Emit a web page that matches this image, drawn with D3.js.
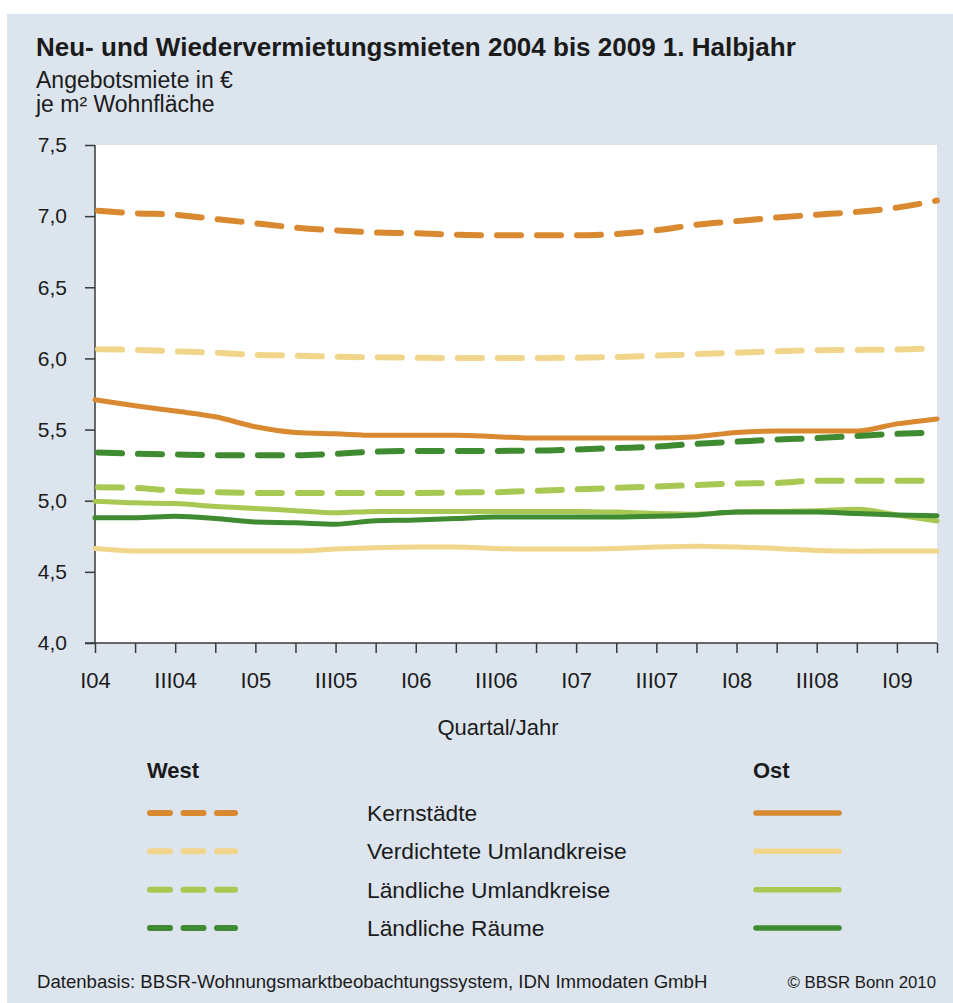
<!DOCTYPE html>
<html>
<head>
<meta charset="utf-8">
<script src="https://cdn.jsdelivr.net/npm/d3@7"></script>
<style>
  body { margin: 0; background: #fff; }
  text { font-family: "Liberation Sans", Arial, sans-serif; fill: #1b1b1b; }
</style>
</head>
<body>
<svg id="chart" width="953" height="1003"></svg>
<script>
// quarters I04 .. II09
var quarters = ['I04','II04','III04','IV04','I05','II05','III05','IV05','I06','II06','III06','IV06',
                'I07','II07','III07','IV07','I08','II08','III08','IV08','I09','II09'];
var tickLabels = ['I04','III04','I05','III05','I06','III06','I07','III07','I08','III08','I09'];
var yTicks = [4.0, 4.5, 5.0, 5.5, 6.0, 6.5, 7.0, 7.5];

var regions = ['Kernstädte', 'Verdichtete Umlandkreise', 'Ländliche Umlandkreise', 'Ländliche Räume'];
var colors = ['#d9892f', '#f1d58b', '#a7c852', '#3f8b31'];

// West (dashed)
var westKern = [7.04,7.02,7.01,6.98,6.95,6.92,6.90,6.885,6.88,6.87,6.865,6.865,6.865,6.875,6.90,6.94,6.965,6.99,7.01,7.03,7.06,7.11];
var westVerd = [6.065,6.06,6.05,6.04,6.025,6.02,6.012,6.008,6.005,6.003,6.003,6.003,6.005,6.01,6.02,6.03,6.04,6.05,6.058,6.06,6.062,6.072];
var westLaendUml = [5.095,5.09,5.07,5.06,5.055,5.055,5.055,5.055,5.055,5.058,5.06,5.07,5.08,5.09,5.10,5.11,5.12,5.125,5.14,5.14,5.14,5.14];
var westLaendRaum = [5.34,5.33,5.325,5.32,5.32,5.32,5.33,5.345,5.35,5.35,5.35,5.352,5.36,5.37,5.38,5.40,5.415,5.43,5.44,5.455,5.47,5.48];

// Ost (solid)
var ostKern = [5.71,5.668,5.63,5.59,5.52,5.48,5.47,5.46,5.46,5.46,5.45,5.44,5.44,5.44,5.44,5.45,5.48,5.49,5.49,5.49,5.54,5.575];
var ostVerd = [4.664,4.647,4.647,4.647,4.647,4.647,4.66,4.67,4.675,4.675,4.665,4.66,4.66,4.665,4.675,4.68,4.675,4.665,4.65,4.645,4.647,4.647];
var ostLaendUml = [4.997,4.985,4.98,4.96,4.945,4.93,4.915,4.925,4.925,4.925,4.925,4.925,4.925,4.92,4.91,4.905,4.92,4.925,4.93,4.94,4.90,4.857];
var ostLaendRaum = [4.88,4.88,4.89,4.875,4.85,4.845,4.835,4.86,4.865,4.875,4.885,4.885,4.885,4.885,4.89,4.90,4.92,4.92,4.92,4.91,4.90,4.895];

var westSeries = [westKern, westVerd, westLaendUml, westLaendRaum];
var ostSeries = [ostKern, ostVerd, ostLaendUml, ostLaendRaum];

var svg = d3.select('#chart');
var width = +svg.attr('width');
var height = +svg.attr('height');

var plot = {left: 95, right: 937, top: 145, bottom: 643};

// background panel
svg.append('rect')
    .attr('x', 7).attr('y', 14)
    .attr('width', width - 7).attr('height', height - 14)
    .attr('fill', '#dce4ee');

svg.append('rect')
    .attr('x', plot.left).attr('y', plot.top)
    .attr('width', plot.right - plot.left).attr('height', plot.bottom - plot.top)
    .attr('fill', '#ffffff');

var x = d3.scalePoint().domain(quarters).range([plot.left, plot.right]);
var y = d3.scaleLinear().domain([4, 7.5]).range([plot.bottom, plot.top]);

// titles
svg.append('text')
    .attr('x', 36).attr('y', 56)
    .style('font-size', '26px').style('font-weight', 'bold')
    .text('Neu- und Wiedervermietungsmieten 2004 bis 2009 1. Halbjahr');
svg.append('text')
    .attr('x', 36).attr('y', 88)
    .style('font-size', '23px')
    .text('Angebotsmiete in €');
svg.append('text')
    .attr('x', 36).attr('y', 112)
    .style('font-size', '23px')
    .text('je m² Wohnfläche');

// axes
var yAxis = d3.axisLeft(y).tickValues(yTicks).tickSize(10)
    .tickFormat(function(d) { return d3.format('.1f')(d).replace('.', ','); });
var yG = svg.append('g').attr('transform', 'translate(' + plot.left + ',0)').call(yAxis);
yG.select('.domain').remove();
yG.append('line').attr('x1', 0).attr('x2', 0).attr('y1', plot.top).attr('y2', plot.bottom);
yG.selectAll('line').attr('stroke', '#3a3a3a').attr('stroke-width', 1.5);
yG.selectAll('text')
    .attr('x', -28)
    .style('font-size', '21px')
    .style('font-family', '"Liberation Sans", Arial, sans-serif')
    .attr('fill', '#1b1b1b');

var xAxis = d3.axisBottom(x).tickSize(10)
    .tickFormat(function(d) { return tickLabels.indexOf(d) >= 0 ? d : ''; });
var xG = svg.append('g').attr('transform', 'translate(0,' + plot.bottom + ')').call(xAxis);
xG.select('.domain').remove();
xG.append('line').attr('x1', plot.left - 10).attr('x2', plot.right).attr('y1', 0).attr('y2', 0);
xG.selectAll('line').attr('stroke', '#3a3a3a').attr('stroke-width', 1.5);
xG.selectAll('text')
    .attr('y', 45)
    .attr('dy', 0)
    .style('font-size', '22px')
    .style('font-family', '"Liberation Sans", Arial, sans-serif')
    .attr('fill', '#1b1b1b');

svg.append('text')
    .attr('x', 498).attr('y', 735)
    .attr('text-anchor', 'middle')
    .style('font-size', '22px')
    .text('Quartal/Jahr');

// lines
var line = d3.line()
    .x(function(d, i) { return x(quarters[i]); })
    .y(function(d) { return y(d); })
    .curve(d3.curveMonotoneX);

var ostOrder = [1, 2, 3, 0];
ostOrder.forEach(function(i) {
    svg.append('path')
        .datum(ostSeries[i])
        .attr('d', line)
        .attr('fill', 'none')
        .attr('stroke', colors[i])
        .attr('stroke-width', 5)
        .attr('stroke-linecap', 'round')
        .attr('stroke-linejoin', 'round');
});

westSeries.forEach(function(s, i) {
    svg.append('path')
        .datum(s)
        .attr('d', line)
        .attr('fill', 'none')
        .attr('stroke', colors[i])
        .attr('stroke-width', 6)
        .attr('stroke-dasharray', '24,16')
        .attr('stroke-dashoffset', -3)
        .attr('stroke-linecap', 'round');
});

// legend
svg.append('text').attr('x', 147).attr('y', 778)
    .style('font-size', '22px').style('font-weight', 'bold').text('West');
svg.append('text').attr('x', 753).attr('y', 778)
    .style('font-size', '22px').style('font-weight', 'bold').text('Ost');

var legendY = d3.scalePoint().domain(regions).range([813, 928]);

regions.forEach(function(r, i) {
    var ly = legendY(r);
    svg.append('line')
        .attr('x1', 150).attr('x2', 235).attr('y1', ly).attr('y2', ly)
        .attr('stroke', colors[i]).attr('stroke-width', 6)
        .attr('stroke-dasharray', '20,13.5')
        .attr('stroke-linecap', 'round');
    svg.append('text')
        .attr('x', 367).attr('y', ly + 8)
        .style('font-size', '22.8px')
        .text(r);
    svg.append('line')
        .attr('x1', 756).attr('x2', 839).attr('y1', ly).attr('y2', ly)
        .attr('stroke', colors[i]).attr('stroke-width', 5.5)
        .attr('stroke-linecap', 'round');
});

// footer
svg.append('text').attr('x', 37).attr('y', 988)
    .style('font-size', '18.6px')
    .text('Datenbasis: BBSR-Wohnungsmarktbeobachtungssystem, IDN Immodaten GmbH');
svg.append('text').attr('x', 936).attr('y', 988)
    .attr('text-anchor', 'end')
    .style('font-size', '16.8px')
    .text('© BBSR Bonn 2010');
</script>
</body>
</html>
